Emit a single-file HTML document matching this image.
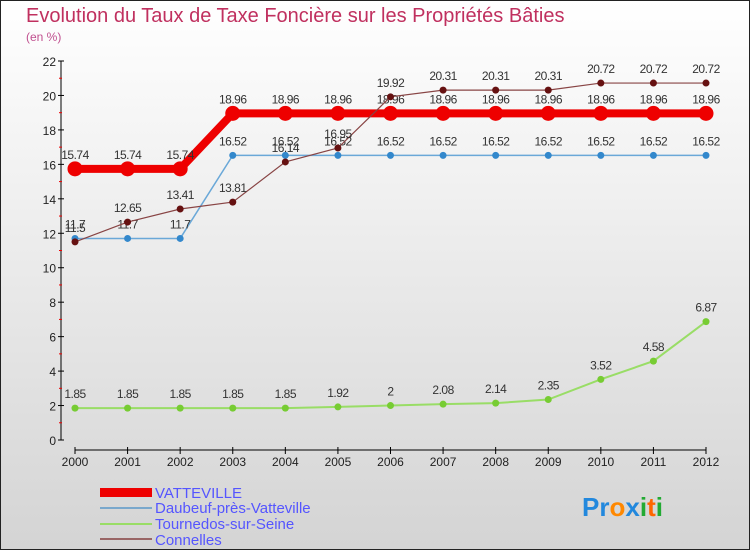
<!DOCTYPE html>
<html><head><meta charset="utf-8"><style>
body{margin:0}
#c{width:750px;height:550px;position:relative;font-family:"Liberation Sans",sans-serif}
</style></head><body>
<div id="c">
<svg id="s" width="750" height="550" xmlns="http://www.w3.org/2000/svg">
<defs><linearGradient id="bg" x1="0" y1="0" x2="0" y2="1"><stop offset="0" stop-color="#ffffff"/><stop offset="1" stop-color="#d4d4d4"/></linearGradient></defs>
<rect x="0.5" y="0.5" width="749" height="549" fill="url(#bg)" stroke="#222"/>
<text x="26" y="22" font-size="20" fill="#c0305f">Evolution du Taux de Taxe Foncière sur les Propriétés Bâties</text>
<text x="26" y="41" font-size="12" fill="#c0508f">(en %)</text>
<g id="g"></g>
<g>
<rect x="100" y="488" width="52" height="9" fill="#ee0000"/>
<text x="155" y="498" font-size="15" fill="#5555ff">VATTEVILLE</text>
<rect x="100" y="507" width="52" height="2" fill="#7aa8cc"/>
<text x="155" y="513" font-size="15" fill="#5555ff">Daubeuf-près-Vatteville</text>
<rect x="100" y="523" width="52" height="2" fill="#99dd66"/>
<text x="155" y="529" font-size="15" fill="#5555ff">Tournedos-sur-Seine</text>
<rect x="100" y="538" width="52" height="2" fill="#996666"/>
<text x="155" y="545" font-size="15" fill="#5555ff">Connelles</text>
</g>
<text x="582" y="516" font-size="26" font-weight="bold"><tspan fill="#2288dd">Pr</tspan><tspan fill="#ff8800">o</tspan><tspan fill="#2288dd">x</tspan><tspan fill="#22aa33">i</tspan><tspan fill="#ff6600">t</tspan><tspan fill="#22aa33">i</tspan></text>
</svg>
</div>
<script>
const years=[2000,2001,2002,2003,2004,2005,2006,2007,2008,2009,2010,2011,2012];
const vatteville=[15.74,15.74,15.74,18.96,18.96,18.96,18.96,18.96,18.96,18.96,18.96,18.96,18.96];
const daubeuf=[11.7,11.7,11.7,16.52,16.52,16.52,16.52,16.52,16.52,16.52,16.52,16.52,16.52];
const tournedos=[1.85,1.85,1.85,1.85,1.85,1.92,2,2.08,2.14,2.35,3.52,4.58,6.87];
const connelles=[11.5,12.65,13.41,13.81,16.14,16.95,19.92,20.31,20.31,20.31,20.72,20.72,20.72];
const yTicks=[0,2,4,6,8,10,12,14,16,18,20,22];
const NS="http://www.w3.org/2000/svg";
const g=document.getElementById('g');
const X=i=>75+i*(706-75)/(years.length-1);
const Y=v=>440-v*(440-61)/22;
function mk(t,a){const e=document.createElementNS(NS,t);for(const k in a)e.setAttribute(k,a[k]);g.appendChild(e);return e;}
let ax=mk('line',{x1:61,y1:61,x2:61,y2:440,stroke:'#000'});


yTicks.forEach(v=>{
 mk('line',{x1:58,y1:Y(v),x2:64,y2:Y(v),stroke:'#000'});
 if(v<22){let m=mk('line',{x1:59,y1:Y(v+1),x2:62,y2:Y(v+1),stroke:'#e00'});}
 let t=mk('text',{x:56,y:Y(v)+5,'font-size':12,'text-anchor':'end',fill:'#222'});t.textContent=v;
 
 
});
let xa=mk('line',{x1:75,y1:450,x2:706,y2:450,stroke:'#000'});


years.forEach((y,i)=>{
 mk('line',{x1:X(i),y1:447,x2:X(i),y2:454,stroke:'#000'});
 let t=mk('text',{x:X(i),y:466,'font-size':12,'text-anchor':'middle',fill:'#222'});t.textContent=y;
 
 
});
function series(d,name,col,w,r,dot){
 let p=mk('polyline',{points:d.map((v,i)=>X(i)+','+Y(v)).join(' '),fill:'none',stroke:col,'stroke-width':w});
 
 
 d.forEach((v,i)=>{
  let c=mk('circle',{cx:X(i),cy:Y(v),r:r,fill:dot});
  
  
  let t=mk('text',{x:X(i),y:Y(v)-10,'font-size':12,'text-anchor':'middle',fill:'#333','letter-spacing':'-0.5'});t.textContent=v;
  
  
 });
}
series(tournedos,'tournedos','#99dd66',2,3.5,'#77cc33');
series(daubeuf,'daubeuf','#6aa8d8',1.5,3.5,'#3388cc');
series(vatteville,'vatteville','#ee0000',8,7.5,'#ee0000');
series(connelles,'connelles','#884444',1.2,3.5,'#661111');
</script>
</body></html>
